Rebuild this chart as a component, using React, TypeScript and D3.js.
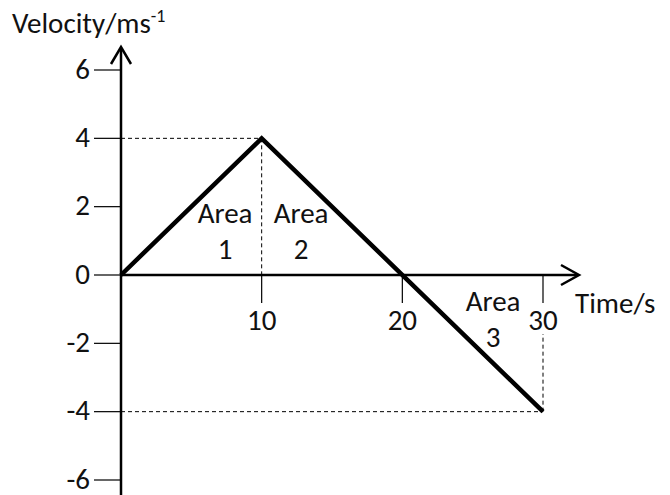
import React from "react";
import * as d3 from "d3";

const points: [number, number][] = [
  [0, 0],
  [10, 4],
  [30, -4],
];
const xTicks = [10, 20, 30];
const yTicks = [6, 4, 2, 0, -2, -4, -6];
const areaLabels = [
  { x: 7.4, y: 1.52, lines: ["Area", "1"] },
  { x: 12.8, y: 1.52, lines: ["Area", "2"] },
  { x: 26.45, y: -1.05, lines: ["Area", "3"] },
];

const W = 670;
const H = 495;
const FONT = "Carlito, Lato, 'Open Sans', sans-serif";

export default function App() {
  const x = d3.scaleLinear().domain([0, 30]).range([121, 543]);
  const y = d3.scaleLinear().domain([-6, 6]).range([480, 70]);
  const line = d3
    .line<[number, number]>()
    .x((d) => x(d[0]))
    .y((d) => y(d[1]));
  const fs = 29;
  return (
    <svg
      width={W}
      height={H}
      style={{ position: "absolute", left: 0, top: 0, background: "#fff" }}
      fontFamily={FONT}
      fill="#111"
    >
      {/* dashed guides */}
      <g stroke="#000" strokeWidth={1} strokeDasharray="4,3" fill="none">
        <line x1={x(0)} x2={x(10)} y1={y(4)} y2={y(4)} />
        <line x1={x(10)} x2={x(10)} y1={y(4)} y2={y(0)} />
        <line x1={x(0)} x2={x(30)} y1={y(-4)} y2={y(-4)} />
        <line x1={x(30)} x2={x(30)} y1={y(-4)} y2={334} />
      </g>
      {/* y axis */}
      <line x1={x(0)} x2={x(0)} y1={H} y2={48} stroke="#000" strokeWidth={2.5} />
      <polyline
        points={`${x(0) - 10},${64} ${x(0)},${47} ${x(0) + 10},${64}`}
        fill="none"
        stroke="#000"
        strokeWidth={2.5}
      />
      {yTicks.map((t) => (
        <g key={t}>
          <line x1={94} x2={x(0)} y1={y(t)} y2={y(t)} stroke="#000" strokeWidth={1.2} />
          <text x={90} y={y(t)} dy="0.3em" textAnchor="end" fontSize={fs}>
            {t}
          </text>
        </g>
      ))}
      {/* x axis */}
      <line x1={x(0)} x2={578} y1={y(0)} y2={y(0)} stroke="#000" strokeWidth={2.5} />
      <polyline
        points={`${561},${y(0) - 10} ${579},${y(0)} ${561},${y(0) + 10}`}
        fill="none"
        stroke="#000"
        strokeWidth={2.5}
      />
      {xTicks.map((t) => (
        <g key={t}>
          <line x1={x(t)} x2={x(t)} y1={y(0)} y2={303} stroke="#000" strokeWidth={1.2} />
          <text x={x(t)} y={330} textAnchor="middle" fontSize={fs}>
            {t}
          </text>
        </g>
      ))}
      {/* data line */}
      <path d={line(points) || ""} fill="none" stroke="#000" strokeWidth={4.5} />
      {/* area labels */}
      {areaLabels.map((a, i) => (
        <text key={i} textAnchor="middle" fontSize={fs}>
          <tspan x={x(a.x)} y={y(a.y)}>
            {a.lines[0]}
          </tspan>
          <tspan x={x(a.x)} y={y(a.y) + 36}>
            {a.lines[1]}
          </tspan>
        </text>
      ))}
      {/* axis titles */}
      <text x={12} y={33} fontSize={fs}>
        Velocity/ms
        <tspan dy={-11} fontSize={18}>
          -1
        </tspan>
      </text>
      <text x={575} y={313} fontSize={fs}>
        Time/s
      </text>
    </svg>
  );
}
